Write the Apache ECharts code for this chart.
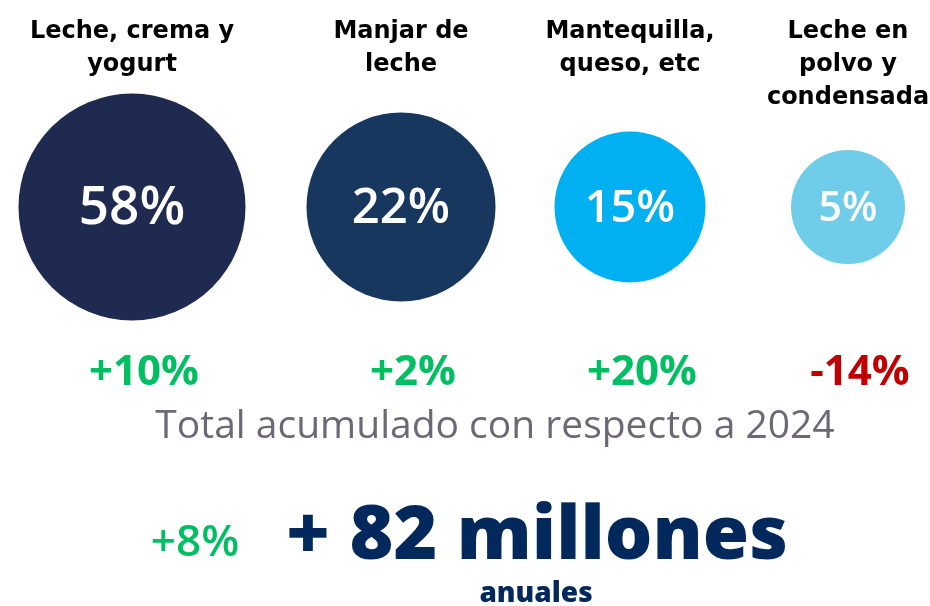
<!DOCTYPE html>
<html>
<head>
<meta charset="utf-8">
<style>
html,body{margin:0;padding:0;background:#fff;}
#chart{width:930px;height:606px;}
</style>
</head>
<body>
<div id="chart"></div>
<script src="https://cdn.jsdelivr.net/npm/echarts@6/dist/echarts.min.js"></script>
<script>
// categorías y valores
const categories = ['Leche, crema y\nyogurt', 'Manjar de\nleche', 'Mantequilla,\nqueso, etc', 'Leche en\npolvo y\ncondensada'];
const shares = [58, 22, 15, 5];      // participación %
const growth = [10, 2, 20, -14];     // variación vs 2024 %
const totalGrowth = 8;
const totalMillones = 82;
const totalText = 'Total acumulado con respecto a 2024';

// layout / estilos
const colCenter = [132, 401, 630, 848];
const bubbleSize = [227, 189, 151, 114];
const bubbleColor = ['#1F2A50', '#17375F', '#00B0F0', '#70CDEA'];
const verde = '#00BF63', rojo = '#C00000', azul = '#03295C';
const rows = ['cuota', 'variacion'];

let mycharts = echarts.init(document.getElementById('chart'));

let grids = [], xAxes = [], yAxes = [], series = [];
categories.forEach((cat, i) => {
    grids.push({left: colCenter[i] - 120, width: 240, top: 124, height: 332, containLabel: false, outerBoundsMode: 'none'});
    xAxes.push({
        gridIndex: i,
        type: 'category',
        data: [cat],
        position: 'top',
        axisLine: {show: false},
        axisTick: {show: false},
        splitLine: {show: false},
        axisLabel: {
            interval: 0,
            margin: 109,
            verticalAlign: 'top',
            align: 'center',
            color: '#000',
            fontFamily: 'DejaVu Sans',
            fontWeight: 'bold',
            fontSize: 24,
            lineHeight: 33
        }
    });
    yAxes.push({gridIndex: i, type: 'category', data: rows, inverse: true, show: false});

    let fs = Math.round(bubbleSize[i] * 0.105 + 29.5);
    let g = growth[i];
    series.push({
        type: 'scatter',
        xAxisIndex: i,
        yAxisIndex: i,
        silent: true,
        data: [
            {
                value: [cat, 'cuota', shares[i]],
                symbolSize: bubbleSize[i],
                itemStyle: {color: bubbleColor[i], opacity: 1},
                label: {
                    show: true, position: 'inside',
                    formatter: shares[i] + '%',
                    color: '#fff', fontFamily: 'Open Sans', fontWeight: 600, fontSize: fs,
                    offset: [0, 2]
                }
            },
            {
                value: [cat, 'variacion', g],
                symbolSize: 1,
                itemStyle: {color: 'rgba(0,0,0,0)', opacity: 1},
                label: {
                    show: true, position: 'inside',
                    formatter: (g > 0 ? '+' : '') + g + '%',
                    color: g >= 0 ? verde : rojo,
                    fontFamily: 'Open Sans', fontWeight: 700, fontSize: 42,
                    offset: [12, 0]
                }
            }
        ]
    });
});

let options = {
    animation: false,
    backgroundColor: '#fff',
    grid: grids,
    xAxis: xAxes,
    yAxis: yAxes,
    series: series,
    graphic: [
        {type: 'text', x: 495, y: 427, style: {text: totalText, fill: '#6D6875', font: '400 39px "Open Sans"', align: 'center', verticalAlign: 'middle'}},
        {type: 'text', x: 195, y: 543, style: {text: '+' + totalGrowth + '%', fill: verde, font: '600 44px "Open Sans"', align: 'center', verticalAlign: 'middle'}},
        {type: 'text', x: 537, y: 538, style: {text: '+ ' + totalMillones + ' millones', fill: azul, font: '800 75px "Open Sans"', align: 'center', verticalAlign: 'middle'}},
        {type: 'text', x: 536, y: 594, style: {text: 'anuales', fill: azul, font: '800 28px "Open Sans"', align: 'center', verticalAlign: 'middle'}}
    ]
};
mycharts.setOption(options, true);
window.addEventListener('resize', () => mycharts.resize());
</script>
</body>
</html>
